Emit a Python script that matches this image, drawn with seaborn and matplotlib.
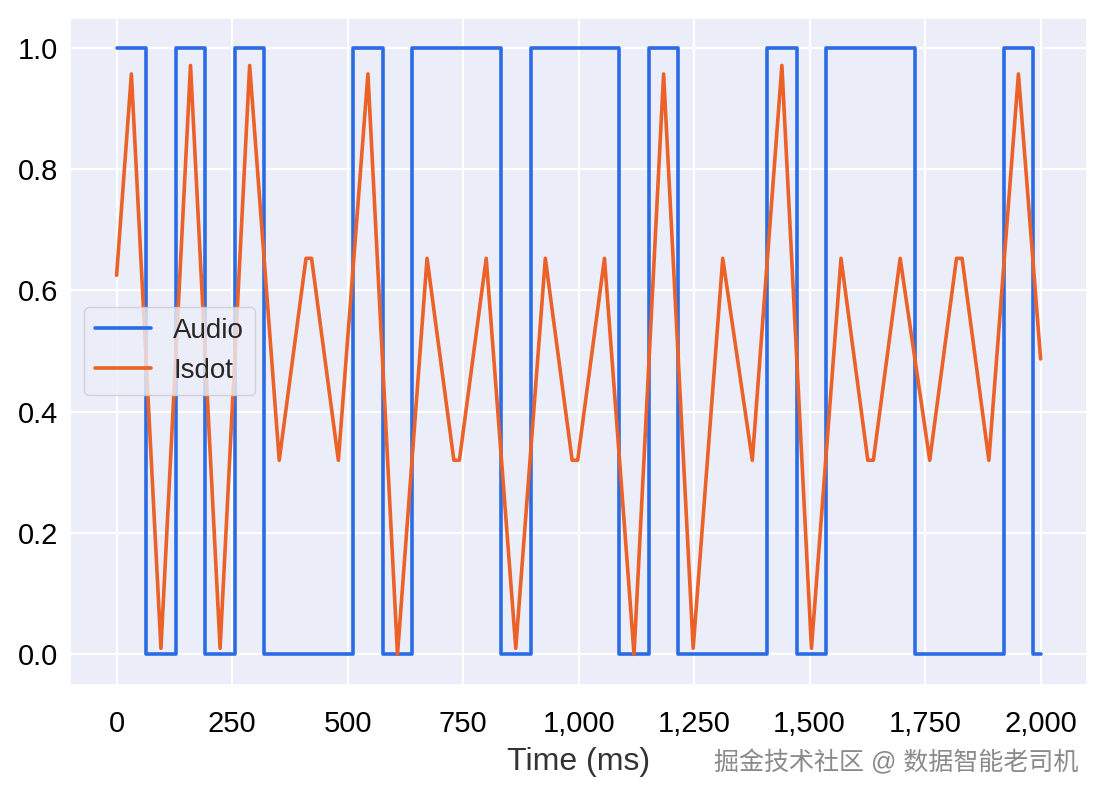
import pandas as pd
import matplotlib.pyplot as plt
import matplotlib.ticker as mticker
import seaborn as sns

# Audio: on/off square wave (step points, value holds until next time)
audio_t = [0, 64, 128, 192, 256, 320, 512, 576, 640, 832, 896, 1088, 1152,
           1216, 1408, 1472, 1536, 1728, 1920, 1984, 2000]
audio_v = [1, 0, 1, 0, 1, 0, 1, 0, 1, 0, 1, 0, 1,
           0, 1, 0, 1, 0, 1, 0, 0]

# Isdot: vertices of the predicted dot signal
isdot_t = [0, 32, 96, 160, 224, 288, 352, 410, 422, 480, 544, 608, 672,
           730, 742, 800, 864, 928, 986, 998, 1056, 1120, 1184, 1248, 1312,
           1376, 1440, 1504, 1568, 1626, 1638, 1696, 1760, 1818, 1830, 1888,
           1952, 2000]
isdot_v = [0.625, 0.957, 0.01, 0.971, 0.01, 0.971, 0.32, 0.653, 0.653, 0.32,
           0.957, 0.0, 0.653, 0.32, 0.32, 0.653, 0.01, 0.653, 0.32, 0.32,
           0.653, 0.0, 0.957, 0.01, 0.653, 0.32, 0.971, 0.01, 0.653, 0.32,
           0.32, 0.653, 0.32, 0.653, 0.653, 0.32, 0.957, 0.487]

df_audio = pd.DataFrame({"t": audio_t, "v": audio_v})
df_isdot = pd.DataFrame({"t": isdot_t, "v": isdot_v})

sns.set_theme(style="darkgrid", rc={"axes.facecolor": "#EBEEF8",
                                    "grid.color": "white",
                                    "grid.linewidth": 1.6})
plt.rcParams["font.family"] = ["Liberation Sans", "Noto Sans CJK SC", "DejaVu Sans"]

fig, ax = plt.subplots(figsize=(11, 7.98), dpi=100)
fig.subplots_adjust(left=0.064, right=0.988, top=0.978, bottom=0.142)

sns.lineplot(data=df_audio, x="t", y="v", ax=ax, color="#2B6BE4", lw=2.6,
             drawstyle="steps-post", estimator=None, sort=False, label="Audio")
sns.lineplot(data=df_isdot, x="t", y="v", ax=ax, color="#EC6127", lw=2.6,
             estimator=None, sort=False, label="Isdot")

ax.set_xticks([0, 250, 500, 750, 1000, 1250, 1500, 1750, 2000])
ax.xaxis.set_major_formatter(mticker.StrMethodFormatter("{x:,.0f}"))
ax.yaxis.set_major_formatter(mticker.StrMethodFormatter("{x:.1f}"))
ax.tick_params(axis="x", labelsize=21, pad=12, colors="black")
ax.tick_params(axis="y", labelsize=21, pad=3, colors="black")
ax.set_xlabel("Time (ms)", fontsize=23, color="#333333", labelpad=7)
ax.set_ylabel("")

ax.legend(loc="center left", fontsize=20, handlelength=2.0)

fig.text(0.98, 0.044, "掘金技术社区 @ 数据智能老司机", ha="right", va="center",
         fontsize=18, color="#8a8a8a")

plt.savefig("out.png", dpi=100)
